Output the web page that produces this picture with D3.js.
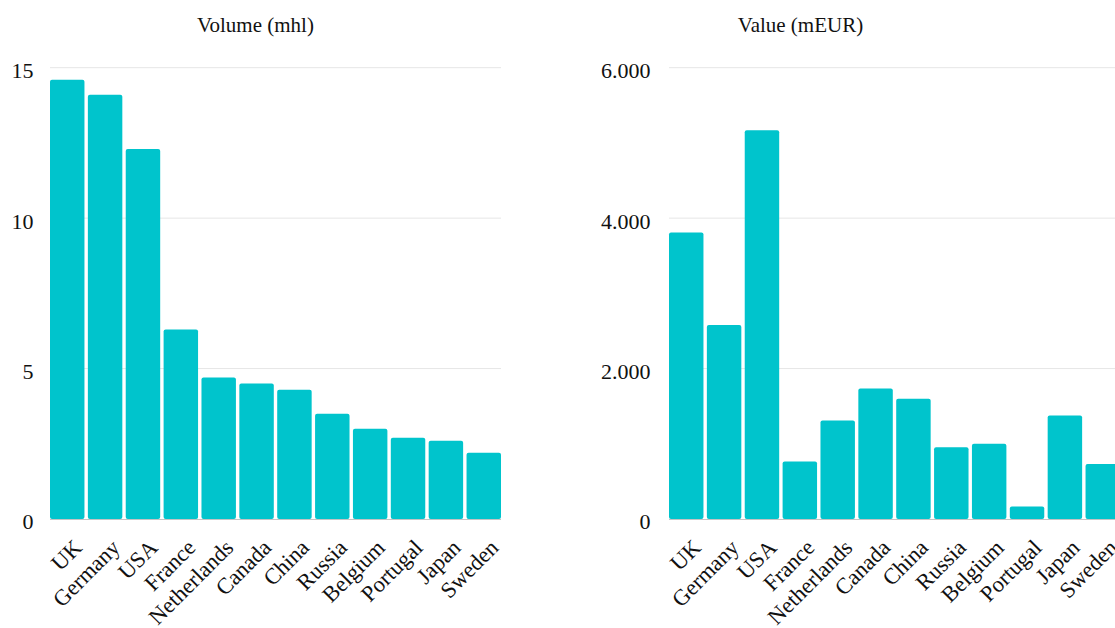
<!DOCTYPE html>
<html>
<head>
<meta charset="utf-8">
<script src="https://cdn.jsdelivr.net/npm/d3@7"></script>
<style>
  html, body { margin: 0; padding: 0; background: #fff; }
  svg { display: block; }
  text { font-family: "Liberation Serif", "Times New Roman", serif; fill: #111; }
</style>
</head>
<body>
<svg id="chart" width="1115" height="628"></svg>
<script>
// Export markets: volume and value per country
const countries = ["UK", "Germany", "USA", "France", "Netherlands", "Canada",
                   "China", "Russia", "Belgium", "Portugal", "Japan", "Sweden"];
const volumeMhl = [14.6, 14.1, 12.3, 6.3, 4.7, 4.5, 4.3, 3.5, 3.0, 2.7, 2.6, 2.2];
const valueMEur = [3810, 2580, 5170, 765, 1310, 1735, 1600, 955, 1000, 165, 1375, 730];
const volumeTicks = [0, 5, 10, 15];
const valueTicks = [0, 2000, 4000, 6000];

const de = d3.formatLocale({ decimal: ",", thousands: ".", grouping: [3], currency: ["", " €"] });
const fmtThousands = de.format(",");

const svg = d3.select("#chart");
const barColor = "#00c4cc";
const titleSize = 21, tickSize = 22, catSize = 22.5;

function panel(opts) {
  const g = svg.append("g");
  const x = d3.scaleBand().domain(countries).range(opts.xRange).paddingInner(0.09).paddingOuter(0);
  const y = d3.scaleLinear().domain(opts.yDomain).range([519, 67.7]);

  // title
  g.append("text")
    .attr("x", opts.titleX).attr("y", 32)
    .attr("text-anchor", "middle")
    .style("font-size", titleSize + "px")
    .text(opts.title);

  // horizontal gridlines
  g.append("g").selectAll("line")
    .data(opts.ticks.filter(t => t !== 0))
    .join("line")
    .attr("x1", opts.xRange[0]).attr("x2", opts.gridEnd)
    .attr("y1", d => y(d)).attr("y2", d => y(d))
    .attr("stroke", "#e6e6e6").attr("stroke-width", 1);

  // y axis labels
  const yAxis = d3.axisLeft(y).tickValues(opts.ticks).tickFormat(opts.format).tickSize(0).tickPadding(0);
  const ya = g.append("g")
    .attr("transform", `translate(${opts.labelX},0)`)
    .call(yAxis);
  ya.select(".domain").remove();
  ya.selectAll("text")
    .attr("dy", "0.45em")
    .style("font-size", tickSize + "px")
    .style("font-family", '"Liberation Serif", "Times New Roman", serif')
    .attr("fill", "#111");

  // bars
  g.append("g").selectAll("rect")
    .data(opts.values.map((v, i) => ({ c: countries[i], v })))
    .join("rect")
    .attr("x", d => x(d.c))
    .attr("width", x.bandwidth())
    .attr("y", d => y(d.v))
    .attr("height", d => y(0) - y(d.v))
    .attr("rx", 2)
    .attr("fill", barColor);

  // baseline
  g.append("line")
    .attr("x1", opts.xRange[0]).attr("x2", opts.gridEnd)
    .attr("y1", y(0) + 0.5).attr("y2", y(0) + 0.5)
    .attr("stroke", "#c4c4c4").attr("stroke-width", 1);

  // category labels, rotated
  g.append("g").selectAll("text")
    .data(countries)
    .join("text")
    .attr("text-anchor", "end")
    .attr("transform", d => `translate(${x(d) + x.bandwidth() / 2 + 16},549) rotate(-45)`)
    .style("font-size", catSize + "px")
    .text(d => d);
}

panel({
  title: "Volume (mhl)", titleX: 255.5,
  xRange: [50, 501], gridEnd: 501,
  yDomain: [0, 15], ticks: volumeTicks, format: d3.format("d"),
  labelX: 33.5, values: volumeMhl
});

panel({
  title: "Value (mEUR)", titleX: 800.5,
  xRange: [669, 1120], gridEnd: 1120,
  yDomain: [0, 6000], ticks: valueTicks, format: fmtThousands,
  labelX: 650.5, values: valueMEur
});
</script>
</body>
</html>
